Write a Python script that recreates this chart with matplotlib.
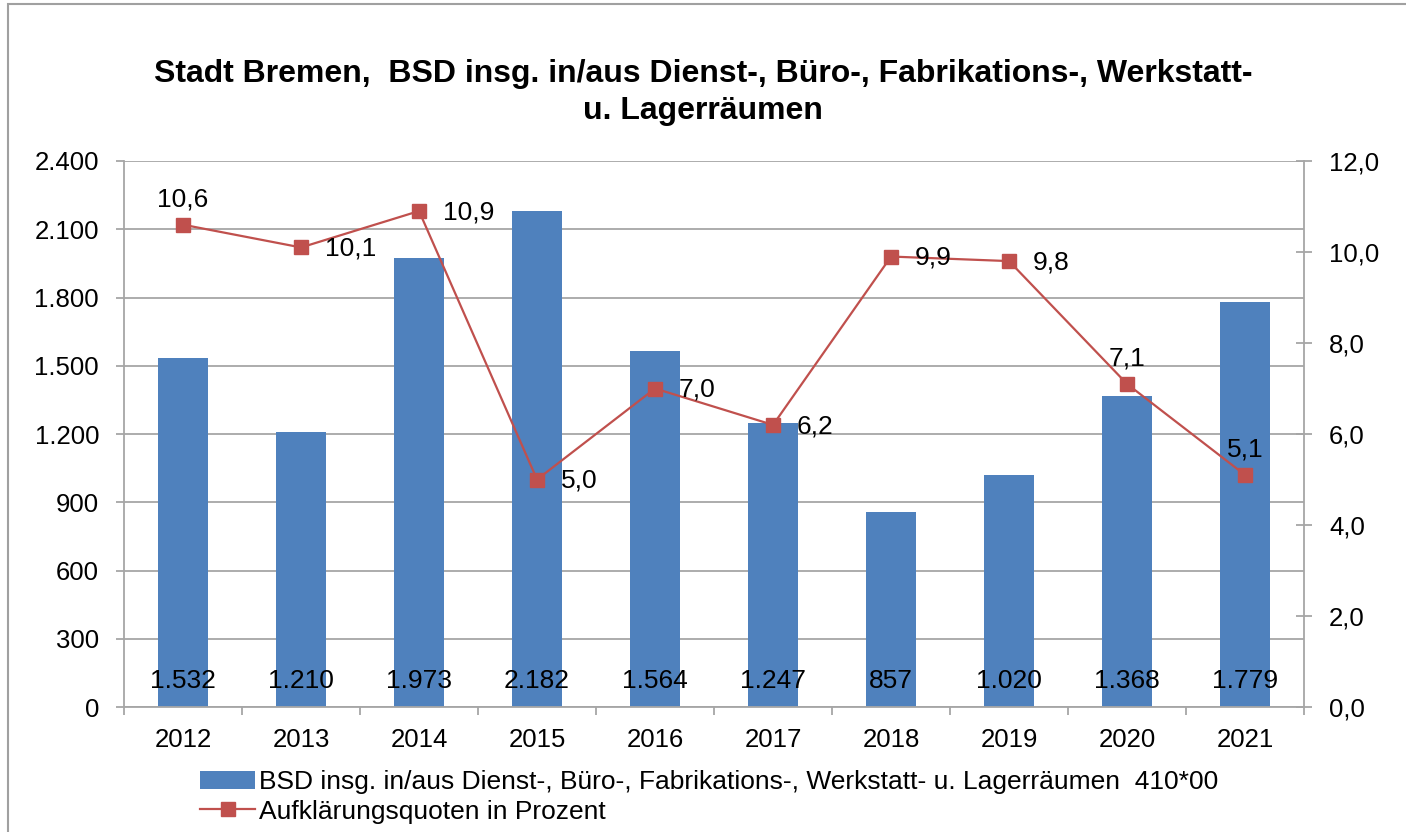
import numpy as np
import matplotlib.pyplot as plt
from matplotlib.patches import Rectangle

plt.rcParams['font.family'] = ['Liberation Sans', 'DejaVu Sans']

years = ['2012', '2013', '2014', '2015', '2016', '2017', '2018', '2019', '2020', '2021']
cases = [1532, 1210, 1973, 2182, 1564, 1247, 857, 1020, 1368, 1779]
quote = [10.6, 10.1, 10.9, 5.0, 7.0, 6.2, 9.9, 9.8, 7.1, 5.1]
# where the rate label sits relative to the marker
quote_pos = ['above', 'right', 'right', 'right', 'right', 'right', 'right', 'right', 'above', 'above']

bar_color = '#4F81BD'
line_color = '#C0504D'
grid_color = '#A6A6A6'
fs = 18.5


def de_int(v):
    return f"{v:,}".replace(',', '.')


def de_dec(v):
    return f"{v:.1f}".replace('.', ',')


fig = plt.figure(figsize=(14.06, 8.32), dpi=100)
ax = fig.add_axes([0.0882, 0.1502, 0.8393, 0.6563])
ax2 = ax.twinx()

x = np.arange(len(years))
bars = ax.bar(x, cases, width=0.42, color=bar_color, zorder=2,
              label='BSD insg. in/aus Dienst-, Büro-, Fabrikations-, Werkstatt- u. Lagerräumen  410*00')
ax.set_ylim(0, 2400)
ax.set_yticks(np.arange(0, 2401, 300))
ax.set_yticklabels([de_int(v) for v in range(0, 2401, 300)], fontsize=fs)
ax.set_xlim(-0.5, len(years) - 0.5)
ax.set_xticks(x)
ax.set_xticklabels(years, fontsize=fs)
ax.set_xticks(np.arange(-0.5, len(years), 1), minor=True)
ax.yaxis.grid(True, color=grid_color, linewidth=1.3, zorder=0)
ax.set_axisbelow(True)
for s in ['top', 'right']:
    ax.spines[s].set_visible(False)
for s in ['left', 'bottom']:
    ax.spines[s].set_color(grid_color)
    ax.spines[s].set_linewidth(1.3)
ax.tick_params(axis='both', which='both', colors=grid_color, labelcolor='black')
ax.tick_params(axis='x', which='major', length=0, pad=15)
ax.tick_params(axis='x', which='minor', length=6, width=1.3)
ax.tick_params(axis='y', length=6, width=1.3, pad=12)

for xi, v in zip(x, cases):
    ax.text(xi, 115, de_int(v), ha='center', va='center', fontsize=19, zorder=4)

ln, = ax2.plot(x, quote, color=line_color, marker='s', markersize=10, linewidth=1.6,
               zorder=3, label='Aufklärungsquoten in Prozent')
ax2.set_ylim(0, 12)
ax2.set_yticks(np.arange(0, 12.1, 2))
ax2.set_yticklabels([de_dec(v) for v in np.arange(0, 12.1, 2)], fontsize=fs)
for s in ['top', 'left', 'bottom']:
    ax2.spines[s].set_visible(False)
ax2.spines['right'].set_color(grid_color)
ax2.spines['right'].set_linewidth(1.3)
ax2.tick_params(axis='y', colors=grid_color, labelcolor='black', length=12, width=1.3,
                direction='inout', pad=12)

for xi, v, pos in zip(x, quote, quote_pos):
    if pos == 'above':
        ax2.annotate(de_dec(v), (xi, v), xytext=(0, 18), textcoords='offset points',
                     ha='center', va='center', fontsize=19)
    else:
        ax2.annotate(de_dec(v), (xi, v), xytext=(17, -1), textcoords='offset points',
                     ha='left', va='center', fontsize=19)

fig.text(0.5, 0.889,
         'Stadt Bremen,  BSD insg. in/aus Dienst-, Büro-, Fabrikations-, Werkstatt-\nu. Lagerräumen',
         ha='center', va='center', fontsize=23, fontweight='bold', linespacing=1.3)

fig.legend(handles=[bars, ln], loc='center left', bbox_to_anchor=(200 / 1406, 1 - 797 / 832),
           frameon=False, fontsize=19, handlelength=2.1, handletextpad=0.12,
           labelspacing=0.2, borderpad=0, borderaxespad=0)

fig.patches.append(Rectangle((8 / 1406, -0.01), 1.2, 1.005, transform=fig.transFigure,
                             fill=False, edgecolor='#A0A0A0', linewidth=1.5))

fig.savefig('out.png', dpi=100)
